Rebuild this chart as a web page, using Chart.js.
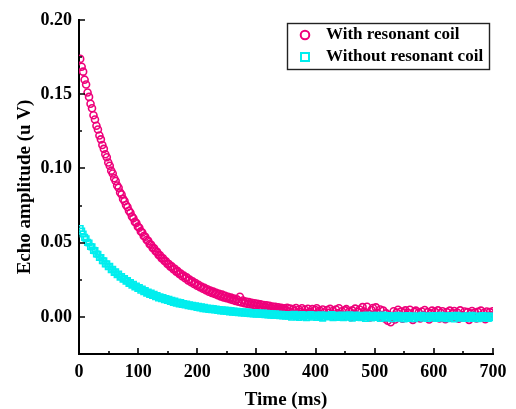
<!DOCTYPE html>
<html>
<head>
<meta charset="utf-8">
<script src="https://cdn.jsdelivr.net/npm/chart.js@4/dist/chart.umd.min.js"></script>
<style>
    html, body { margin: 0; padding: 0; background: #fff; }
    #chart { display: block; }
</style>
</head>
<body>
<canvas id="chart" width="516" height="409"></canvas>
<script>
// Time axis (ms)
const times = [
    2, 4.5, 7, 9.5, 12, 14.5, 17, 19.5, 22, 24.5,
    27, 29.5, 32, 34.5, 37, 39.5, 42, 44.5, 47, 49.5,
    52, 54.5, 57, 59.5, 62, 64.5, 67, 69.5, 72, 74.5,
    77, 79.5, 82, 84.5, 87, 89.5, 92, 94.5, 97, 99.5,
    102, 104.5, 107, 109.5, 112, 114.5, 117, 119.5, 122, 124.5,
    127, 129.5, 132, 134.5, 137, 139.5, 142, 144.5, 147, 149.5,
    152, 154.5, 157, 159.5, 162, 164.5, 167, 169.5, 172, 174.5,
    177, 179.5, 182, 184.5, 187, 189.5, 192, 194.5, 197, 199.5,
    202, 204.5, 207, 209.5, 212, 214.5, 217, 219.5, 222, 224.5,
    227, 229.5, 232, 234.5, 237, 239.5, 242, 244.5, 247, 249.5,
    252, 254.5, 257, 259.5, 262, 264.5, 267, 269.5, 272, 274.5,
    277, 279.5, 282, 284.5, 287, 289.5, 292, 294.5, 297, 299.5,
    302, 304.5, 307, 309.5, 312, 314.5, 317, 319.5, 322, 324.5,
    327, 329.5, 332, 334.5, 337, 339.5, 342, 344.5, 347, 349.5,
    352, 354.5, 357, 359.5, 362, 364.5, 367, 369.5, 372, 374.5,
    377, 379.5, 382, 384.5, 387, 389.5, 392, 394.5, 397, 399.5,
    402, 404.5, 407, 409.5, 412, 414.5, 417, 419.5, 422, 424.5,
    427, 429.5, 432, 434.5, 437, 439.5, 442, 444.5, 447, 449.5,
    452, 454.5, 457, 459.5, 462, 464.5, 467, 469.5, 472, 474.5,
    477, 479.5, 482, 484.5, 487, 489.5, 492, 494.5, 497, 499.5,
    502, 504.5, 507, 509.5, 512, 514.5, 517, 519.5, 522, 524.5,
    527, 529.5, 532, 534.5, 537, 539.5, 542, 544.5, 547, 549.5,
    552, 554.5, 557, 559.5, 562, 564.5, 567, 569.5, 572, 574.5,
    577, 579.5, 582, 584.5, 587, 589.5, 592, 594.5, 597, 599.5,
    602, 604.5, 607, 609.5, 612, 614.5, 617, 619.5, 622, 624.5,
    627, 629.5, 632, 634.5, 637, 639.5, 642, 644.5, 647, 649.5,
    652, 654.5, 657, 659.5, 662, 664.5, 667, 669.5, 672, 674.5,
    677, 679.5, 682, 684.5, 687, 689.5, 692, 694.5, 697, 699.5
];

// Echo amplitude (uV), with resonant coil
const withCoil = [
    0.1738, 0.1685, 0.1652, 0.1598, 0.1565, 0.1512, 0.1482, 0.1436, 0.1405, 0.1358,
    0.1330, 0.1288, 0.1262, 0.1222, 0.1196, 0.1158, 0.1132, 0.1096, 0.1075, 0.1040,
    0.1018, 0.0985, 0.0966, 0.0934, 0.0915, 0.0885, 0.0870, 0.0838, 0.0825, 0.0795,
    0.0780, 0.0754, 0.0740, 0.0715, 0.0702, 0.0676, 0.0665, 0.0640, 0.0632, 0.0608,
    0.0600, 0.0576, 0.0568, 0.0545, 0.0540, 0.0518, 0.0512, 0.0490, 0.0486, 0.0465,
    0.0462, 0.0442, 0.0438, 0.0418, 0.0415, 0.0396, 0.0395, 0.0376, 0.0375, 0.0356,
    0.0356, 0.0338, 0.0340, 0.0322, 0.0324, 0.0305, 0.0308, 0.0290, 0.0292, 0.0274,
    0.0278, 0.0260, 0.0266, 0.0246, 0.0252, 0.0234, 0.0240, 0.0222, 0.0228, 0.0210,
    0.0216, 0.0200, 0.0205, 0.0190, 0.0196, 0.0180, 0.0186, 0.0170, 0.0178, 0.0162,
    0.0170, 0.0154, 0.0162, 0.0146, 0.0156, 0.0138, 0.0150, 0.0131, 0.0142, 0.0126,
    0.0135, 0.0120, 0.0130, 0.0114, 0.0124, 0.0108, 0.0118, 0.0103, 0.0136, 0.0098,
    0.0110, 0.0092, 0.0104, 0.0088, 0.0100, 0.0084, 0.0095, 0.0080, 0.0092, 0.0076,
    0.0088, 0.0072, 0.0084, 0.0068, 0.0080, 0.0066, 0.0078, 0.0062, 0.0074, 0.0060,
    0.0070, 0.0056, 0.0068, 0.0054, 0.0065, 0.0052, 0.0062, 0.0050, 0.0058, 0.0048,
    0.0062, 0.0036, 0.0056, 0.0030, 0.0052, 0.0040, 0.0060, 0.0028, 0.0050, 0.0034,
    0.0058, 0.0026, 0.0048, 0.0020, 0.0055, 0.0032, 0.0022, 0.0052, 0.0018, 0.0046,
    0.0058, 0.0024, 0.0042, 0.0014, 0.0050, 0.0030, 0.0010, 0.0046, 0.0028, 0.0054,
    0.0020, 0.0040, 0.0006, 0.0050, 0.0024, 0.0058, 0.0016, 0.0038, 0.0002, 0.0044,
    0.0052, 0.0014, 0.0036, -0.0002, 0.0044, 0.0022, 0.0056, 0.0010, 0.0034, 0.0050,
    0.0008, 0.0066, 0.0036, 0.0012, 0.0068, 0.0020, -0.0004, 0.0046, 0.0060, 0.0016,
    0.0064, 0.0026, 0.0002, 0.0050, 0.0012, 0.0042, -0.0010, 0.0024, -0.0026, 0.0010,
    -0.0036, 0.0000, 0.0038, -0.0018, 0.0030, 0.0048, 0.0004, 0.0036, -0.0012, 0.0030,
    0.0044, -0.0004, 0.0026, 0.0048, 0.0006, -0.0020, 0.0034, 0.0042, 0.0000, 0.0030,
    -0.0010, 0.0036, 0.0010, 0.0046, 0.0002, 0.0032, -0.0018, 0.0024, 0.0042, -0.0002,
    0.0034, 0.0004, 0.0044, -0.0010, 0.0026, 0.0038, 0.0000, -0.0016, 0.0032, 0.0008,
    0.0042, -0.0006, 0.0024, 0.0040, 0.0002, 0.0030, -0.0012, 0.0044, 0.0012, -0.0004,
    0.0036, 0.0004, 0.0032, -0.0020, 0.0024, 0.0040, 0.0000, 0.0030, -0.0010, 0.0034,
    0.0008, 0.0042, -0.0002, 0.0026, -0.0016, 0.0036, 0.0004, 0.0032, 0.0010, 0.0038
];

// Echo amplitude (uV), without resonant coil
const withoutCoil = [
    0.0595, 0.0578, 0.0558, 0.0536, 0.0526, 0.0502, 0.0498, 0.0474, 0.0472, 0.0448,
    0.0446, 0.0424, 0.0422, 0.0400, 0.0400, 0.0378, 0.0378, 0.0356, 0.0358, 0.0338,
    0.0340, 0.0318, 0.0320, 0.0300, 0.0304, 0.0284, 0.0288, 0.0268, 0.0272, 0.0254,
    0.0258, 0.0240, 0.0244, 0.0226, 0.0232, 0.0214, 0.0220, 0.0202, 0.0208, 0.0192,
    0.0198, 0.0180, 0.0188, 0.0170, 0.0178, 0.0160, 0.0168, 0.0152, 0.0160, 0.0144,
    0.0152, 0.0136, 0.0144, 0.0128, 0.0136, 0.0122, 0.0130, 0.0116, 0.0124, 0.0110,
    0.0118, 0.0104, 0.0112, 0.0098, 0.0106, 0.0092, 0.0100, 0.0088, 0.0096, 0.0084,
    0.0090, 0.0080, 0.0086, 0.0076, 0.0082, 0.0072, 0.0078, 0.0068, 0.0075, 0.0064,
    0.0072, 0.0060, 0.0068, 0.0056, 0.0064, 0.0054, 0.0060, 0.0050, 0.0058, 0.0048,
    0.0056, 0.0046, 0.0052, 0.0044, 0.0050, 0.0040, 0.0048, 0.0038, 0.0046, 0.0036,
    0.0044, 0.0034, 0.0042, 0.0032, 0.0040, 0.0030, 0.0038, 0.0028, 0.0036, 0.0026,
    0.0035, 0.0025, 0.0033, 0.0023, 0.0032, 0.0022, 0.0030, 0.0020, 0.0029, 0.0019,
    0.0028, 0.0018, 0.0026, 0.0016, 0.0025, 0.0014, 0.0024, 0.0013, 0.0022, 0.0012,
    0.0021, 0.0010, 0.0020, 0.0009, 0.0018, 0.0008, 0.0017, 0.0006, 0.0016, 0.0005,
    0.0014, 0.0004, 0.0016, -0.0002, 0.0010, 0.0018, 0.0002, 0.0012, -0.0004, 0.0008,
    0.0015, 0.0001, 0.0010, -0.0006, 0.0012, 0.0004, 0.0016, -0.0002, 0.0008, 0.0013,
    -0.0004, 0.0010, 0.0002, 0.0014, -0.0008, 0.0006, 0.0012, -0.0001, 0.0009, 0.0003,
    0.0015, -0.0005, 0.0007, 0.0011, -0.0003, 0.0010, 0.0000, 0.0013, -0.0006, 0.0006,
    0.0010, -0.0002, 0.0014, 0.0002, -0.0009, 0.0008, 0.0012, -0.0004, 0.0005, 0.0011,
    -0.0006, 0.0009, 0.0001, -0.0010, 0.0012, 0.0003, 0.0008, -0.0007, 0.0010, 0.0000,
    -0.0004, 0.0011, 0.0005, -0.0011, 0.0007, 0.0013, -0.0003, 0.0006, -0.0008, 0.0009,
    0.0002, -0.0012, 0.0008, 0.0004, -0.0005, 0.0010, -0.0008, 0.0002, 0.0007, -0.0013,
    0.0005, -0.0004, 0.0009, -0.0010, 0.0003, 0.0007, -0.0012, 0.0004, -0.0006, 0.0006,
    -0.0002, 0.0010, -0.0009, 0.0003, 0.0008, -0.0011, 0.0001, 0.0006, -0.0007, 0.0009,
    0.0004, -0.0010, 0.0007, -0.0003, 0.0011, -0.0008, 0.0002, 0.0008, -0.0012, 0.0005,
    -0.0005, 0.0009, 0.0001, -0.0013, 0.0006, 0.0010, -0.0006, 0.0003, -0.0009, 0.0007,
    0.0000, -0.0011, 0.0008, 0.0002, -0.0007, 0.0010, -0.0010, 0.0004, 0.0006, -0.0012,
    0.0003, -0.0005, 0.0009, -0.0009, 0.0001, 0.0007, -0.0011, 0.0004, -0.0006, 0.0005
];

// Tick values
const xTicks = [0, 100, 200, 300, 400, 500, 600, 700];
const xMinorTicks = [50, 150, 250, 350, 450, 550, 650];
const yTicks = [0, 0.05, 0.10, 0.15, 0.20];
const yMinorTicks = [0.025, 0.075, 0.125, 0.175];

const seriesLabels = ['With resonant coil', 'Without resonant coil'];
const PINK = 'rgb(238, 0, 122)';
const CYAN = 'rgb(0, 238, 238)';
const FONT = "'Liberation Serif', 'Times New Roman', serif";

// Inward ticks and the boxed legend drawn on top
const decorPlugin = {
    id: 'decor',
    afterDraw: function(chart) {
        const ctx = chart.ctx;
        const area = chart.chartArea;
        const sx = chart.scales.x;
        const sy = chart.scales.y;

        ctx.save();
        ctx.strokeStyle = '#000';
        ctx.lineWidth = 1.6;
        ctx.beginPath();
        xTicks.forEach(function(v) {
            const px = Math.round(sx.getPixelForValue(v));
            ctx.moveTo(px, area.bottom);
            ctx.lineTo(px, area.bottom - 6);
        });
        xMinorTicks.forEach(function(v) {
            const px = Math.round(sx.getPixelForValue(v));
            ctx.moveTo(px, area.bottom);
            ctx.lineTo(px, area.bottom - 3);
        });
        yTicks.forEach(function(v) {
            const py = Math.round(sy.getPixelForValue(v));
            ctx.moveTo(area.left, py);
            ctx.lineTo(area.left + 6, py);
        });
        yMinorTicks.forEach(function(v) {
            const py = Math.round(sy.getPixelForValue(v));
            ctx.moveTo(area.left, py);
            ctx.lineTo(area.left + 3, py);
        });
        ctx.stroke();

        // legend box
        ctx.fillStyle = '#fff';
        ctx.fillRect(287, 23, 202, 46);
        ctx.strokeStyle = '#222';
        ctx.lineWidth = 1.4;
        ctx.strokeRect(287.5, 23.5, 202, 46);

        ctx.lineWidth = 2;
        ctx.strokeStyle = PINK;
        ctx.beginPath();
        ctx.arc(305, 35, 4.3, 0, Math.PI * 2);
        ctx.stroke();
        ctx.strokeStyle = CYAN;
        ctx.strokeRect(301, 53, 8, 8);

        ctx.fillStyle = '#000';
        ctx.font = 'bold 17px ' + FONT;
        ctx.textBaseline = 'middle';
        ctx.textAlign = 'left';
        ctx.fillText(seriesLabels[0], 326, 35);
        ctx.fillText(seriesLabels[1], 326, 57);
        ctx.restore();
    }
};

const ctx = document.getElementById('chart').getContext('2d');

new Chart(ctx, {
    type: 'scatter',
    data: {
        datasets: [
            {
                label: seriesLabels[0],
                data: times.map(function(t, i) { return { x: t, y: withCoil[i] }; }),
                pointStyle: 'circle',
                pointRadius: 3.5,
                pointBorderWidth: 1.6,
                borderColor: PINK,
                backgroundColor: 'rgba(0,0,0,0)',
                order: 1
            },
            {
                label: seriesLabels[1],
                data: times.map(function(t, i) { return { x: t, y: withoutCoil[i] }; }),
                pointStyle: 'rect',
                pointRadius: 3.9,
                pointBorderWidth: 1.6,
                borderColor: CYAN,
                backgroundColor: 'rgba(0,0,0,0)',
                order: 0
            }
        ]
    },
    options: {
        responsive: false,
        animation: false,
        devicePixelRatio: 1,
        layout: {
            padding: { top: 20, right: 23, left: 0, bottom: 0 }
        },
        plugins: {
            legend: { display: false },
            tooltip: { enabled: false }
        },
        scales: {
            x: {
                type: 'linear',
                min: 0,
                max: 700,
                afterBuildTicks: function(scale) {
                    scale.ticks = xTicks.map(function(v) { return { value: v }; });
                },
                afterFit: function(scale) { scale.height = 55; },
                grid: { display: false, drawTicks: false },
                border: { display: true, color: '#000', width: 2 },
                ticks: {
                    padding: 8,
                    color: '#000',
                    maxRotation: 0,
                    font: { family: FONT, size: 18, weight: 'bold' },
                    callback: function(v) { return String(v); }
                },
                title: {
                    display: true,
                    text: 'Time (ms)',
                    color: '#000',
                    padding: { top: 0, bottom: -1 },
                    font: { family: FONT, size: 19, weight: 'bold', lineHeight: 1 }
                }
            },
            y: {
                type: 'linear',
                min: -0.025,
                max: 0.20,
                afterBuildTicks: function(scale) {
                    scale.ticks = yTicks.map(function(v) { return { value: v }; });
                },
                afterFit: function(scale) { scale.width = 79; },
                grid: { display: false, drawTicks: false },
                border: { display: true, color: '#000', width: 2 },
                ticks: {
                    padding: 7,
                    color: '#000',
                    font: { family: FONT, size: 18, weight: 'bold' },
                    callback: function(v) { return Number(v).toFixed(2); }
                },
                title: {
                    display: true,
                    text: 'Echo amplitude (u V)',
                    color: '#000',
                    padding: { top: 16, bottom: 0 },
                    font: { family: FONT, size: 19, weight: 'bold', lineHeight: 1 }
                }
            }
        }
    },
    plugins: [decorPlugin]
});
</script>
</body>
</html>
